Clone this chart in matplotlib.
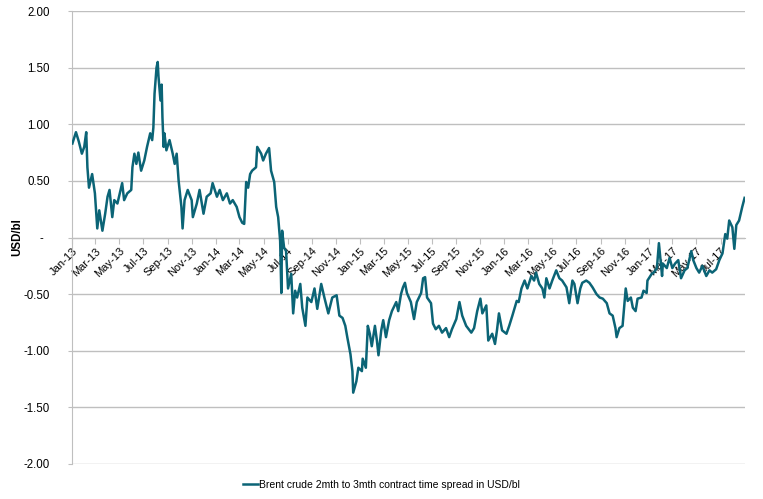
import matplotlib
matplotlib.use("Agg")
import matplotlib.pyplot as plt
import matplotlib.dates as mdates
import pandas as pd

plt.rcParams['font.family'] = ['Liberation Sans', 'DejaVu Sans']

dates = [
    "2013-01-02", "2013-01-11", "2013-01-18", "2013-01-26", "2013-02-01", "2013-02-06", "2013-02-09", "2013-02-13",
    "2013-02-21", "2013-02-28", "2013-03-06", "2013-03-11", "2013-03-19", "2013-03-26", "2013-04-01", "2013-04-06",
    "2013-04-13", "2013-04-18", "2013-04-26", "2013-05-08", "2013-05-13", "2013-05-21", "2013-05-31", "2013-06-03",
    "2013-06-08", "2013-06-13", "2013-06-18", "2013-06-25", "2013-07-03", "2013-07-10", "2013-07-18", "2013-07-23",
    "2013-07-26", "2013-07-29", "2013-08-03", "2013-08-06", "2013-08-08", "2013-08-13", "2013-08-16", "2013-08-18",
    "2013-08-21", "2013-08-23", "2013-08-28", "2013-09-05", "2013-09-13", "2013-09-18", "2013-09-23", "2013-09-28",
    "2013-10-05", "2013-10-08", "2013-10-13", "2013-10-21", "2013-10-31", "2013-11-03", "2013-11-13", "2013-11-20",
    "2013-11-30", "2013-12-08", "2013-12-18", "2013-12-23", "2014-01-03", "2014-01-10", "2014-01-18", "2014-01-28",
    "2014-02-05", "2014-02-12", "2014-02-22", "2014-03-01", "2014-03-08", "2014-03-13", "2014-03-18", "2014-03-23",
    "2014-03-28", "2014-04-02", "2014-04-12", "2014-04-15", "2014-04-25", "2014-04-30", "2014-05-07", "2014-05-15",
    "2014-05-20", "2014-05-28", "2014-06-02", "2014-06-07", "2014-06-12", "2014-06-15", "2014-06-17", "2014-06-22",
    "2014-06-27", "2014-07-02", "2014-07-10", "2014-07-15", "2014-07-20", "2014-07-25", "2014-08-02", "2014-08-07",
    "2014-08-15", "2014-08-20", "2014-08-30", "2014-09-07", "2014-09-14", "2014-09-24", "2014-10-02", "2014-10-12",
    "2014-10-22", "2014-11-02", "2014-11-09", "2014-11-17", "2014-11-24", "2014-11-29", "2014-12-07", "2014-12-12",
    "2014-12-14", "2014-12-22", "2014-12-27", "2015-01-05", "2015-01-07", "2015-01-15", "2015-01-20", "2015-01-25",
    "2015-01-30", "2015-02-07", "2015-02-12", "2015-02-16", "2015-02-23", "2015-02-28", "2015-03-07", "2015-03-15",
    "2015-03-22", "2015-04-02", "2015-04-07", "2015-04-14", "2015-04-19", "2015-04-24", "2015-04-29", "2015-05-09",
    "2015-05-17", "2015-05-24", "2015-06-04", "2015-06-09", "2015-06-14", "2015-06-19", "2015-06-29", "2015-07-04",
    "2015-07-11", "2015-07-19", "2015-07-27", "2015-08-06", "2015-08-14", "2015-08-21", "2015-09-01", "2015-09-09",
    "2015-09-16", "2015-09-26", "2015-10-09", "2015-10-16", "2015-10-24", "2015-11-01", "2015-11-06", "2015-11-16",
    "2015-11-21", "2015-12-01", "2015-12-08", "2015-12-13", "2015-12-18", "2015-12-26", "2016-01-06", "2016-01-13",
    "2016-01-21", "2016-02-01", "2016-02-06", "2016-02-13", "2016-02-21", "2016-02-28", "2016-03-09", "2016-03-16",
    "2016-03-21", "2016-03-29", "2016-04-06", "2016-04-11", "2016-04-16", "2016-04-24", "2016-05-01", "2016-05-11",
    "2016-05-19", "2016-05-26", "2016-06-06", "2016-06-13", "2016-06-21", "2016-06-26", "2016-07-04", "2016-07-11",
    "2016-07-16", "2016-07-26", "2016-08-03", "2016-08-11", "2016-08-21", "2016-08-29", "2016-09-06", "2016-09-16",
    "2016-09-23", "2016-10-01", "2016-10-08", "2016-10-11", "2016-10-18", "2016-10-26", "2016-11-03", "2016-11-08",
    "2016-11-16", "2016-11-21", "2016-11-28", "2016-12-03", "2016-12-13", "2016-12-18", "2016-12-26", "2016-12-28",
    "2017-01-08", "2017-01-13", "2017-01-21", "2017-01-26", "2017-02-03", "2017-02-05", "2017-02-15", "2017-02-22",
    "2017-03-01", "2017-03-08", "2017-03-16", "2017-03-23", "2017-04-01", "2017-04-08", "2017-04-18", "2017-04-23",
    "2017-05-01", "2017-05-08", "2017-05-16", "2017-05-26", "2017-06-03", "2017-06-10", "2017-06-20", "2017-06-28",
    "2017-07-06", "2017-07-13", "2017-07-18", "2017-07-23", "2017-07-31", "2017-08-05", "2017-08-10", "2017-08-17",
    "2017-08-25", "2017-08-31",
]

spread = [
    0.83, 0.93, 0.85, 0.74, 0.80, 0.93, 0.62, 0.44,
    0.56, 0.39, 0.08, 0.24, 0.06, 0.21, 0.36, 0.42,
    0.18, 0.33, 0.30, 0.48, 0.33, 0.39, 0.42, 0.62,
    0.74, 0.65, 0.75, 0.59, 0.68, 0.80, 0.92, 0.86,
    0.97, 1.27, 1.50, 1.55, 1.42, 1.21, 1.35, 1.06,
    0.80, 0.92, 0.77, 0.86, 0.74, 0.65, 0.74, 0.50,
    0.27, 0.08, 0.33, 0.42, 0.33, 0.18, 0.30, 0.42,
    0.21, 0.36, 0.39, 0.48, 0.36, 0.42, 0.33, 0.39,
    0.30, 0.33, 0.27, 0.18, 0.13, 0.12, 0.49, 0.44,
    0.56, 0.59, 0.62, 0.80, 0.74, 0.68, 0.74, 0.79,
    0.59, 0.49, 0.27, 0.18, -0.03, -0.49, 0.06, -0.09,
    -0.12, -0.45, -0.32, -0.67, -0.47, -0.53, -0.41, -0.62,
    -0.78, -0.53, -0.57, -0.45, -0.63, -0.41, -0.53, -0.67,
    -0.53, -0.51, -0.69, -0.71, -0.78, -0.88, -1.03, -1.18,
    -1.37, -1.27, -1.15, -1.18, -1.07, -1.15, -0.78, -0.85,
    -0.96, -0.78, -0.91, -1.04, -0.82, -0.73, -0.88, -0.73,
    -0.65, -0.57, -0.65, -0.50, -0.44, -0.40, -0.49, -0.57,
    -0.72, -0.57, -0.49, -0.36, -0.35, -0.53, -0.58, -0.76,
    -0.81, -0.78, -0.84, -0.80, -0.88, -0.81, -0.72, -0.57,
    -0.69, -0.78, -0.84, -0.80, -0.65, -0.54, -0.67, -0.60,
    -0.91, -0.85, -0.94, -0.82, -0.67, -0.82, -0.85, -0.78,
    -0.69, -0.56, -0.57, -0.45, -0.38, -0.45, -0.34, -0.38,
    -0.31, -0.41, -0.45, -0.53, -0.36, -0.45, -0.38, -0.29,
    -0.36, -0.38, -0.44, -0.58, -0.38, -0.41, -0.58, -0.45,
    -0.40, -0.38, -0.40, -0.44, -0.50, -0.53, -0.54, -0.58,
    -0.67, -0.69, -0.80, -0.88, -0.80, -0.78, -0.45, -0.56,
    -0.53, -0.62, -0.65, -0.54, -0.53, -0.47, -0.49, -0.38,
    -0.32, -0.31, -0.27, -0.05, -0.34, -0.23, -0.27, -0.18,
    -0.27, -0.23, -0.20, -0.36, -0.29, -0.27, -0.12, -0.20,
    -0.27, -0.31, -0.25, -0.34, -0.29, -0.31, -0.28, -0.20,
    -0.14, 0.03, -0.01, 0.15, 0.09, -0.10, 0.11, 0.15,
    0.27, 0.35,
]

y_ticks = [2.0, 1.5, 1.0, 0.5, 0.0, -0.5, -1.0, -1.5, -2.0]
y_tick_labels = ["2.00", "1.50", "1.00", "0.50", "-  ", "-0.50", "-1.00", "-1.50", "-2.00"]
series_label = "Brent crude 2mth to 3mth contract time spread in USD/bl"
y_label = "USD/bl"

line_color = "#0B6476"
grid_color = "#BFBFBF"

x = pd.to_datetime(dates)

fig = plt.figure(figsize=(7.63, 4.99), dpi=100)
ax = fig.add_axes([72 / 763, 1 - 464 / 499, (745 - 72) / 763, (464 - 11) / 499])

ax.plot(x, spread, color=line_color, lw=1.8, label=series_label, zorder=3)

ax.set_xlim(pd.Timestamp("2013-01-01"), pd.Timestamp("2017-09-01"))
ax.set_ylim(-2.0, 2.0)

ax.set_yticks(y_ticks)
ax.set_yticklabels(y_tick_labels)
ax.yaxis.grid(True, color=grid_color, lw=1.0, zorder=0)
ax.set_axisbelow(True)

ax.spines['top'].set_visible(False)
ax.spines['right'].set_visible(False)
ax.spines['left'].set_color(grid_color)
ax.spines['bottom'].set_color(grid_color)
ax.spines['bottom'].set_position(('data', 0))

ax.tick_params(axis='y', length=3, color=grid_color, pad=13, labelsize=8.3, labelcolor='black')
ax.tick_params(axis='x', length=4, color=grid_color, direction='out', pad=2, labelsize=8, labelcolor='black')

ax.xaxis.set_major_locator(mdates.MonthLocator(bymonth=[1, 3, 5, 7, 9, 11]))
ax.xaxis.set_major_formatter(mdates.DateFormatter("%b-%y"))
ax.set_xticks([t for t in ax.get_xticks() if t <= mdates.date2num(pd.Timestamp("2017-07-31"))])
for lbl in ax.get_xticklabels():
    lbl.set_rotation(45)
    lbl.set_ha('right')
    lbl.set_va('top')
    lbl.set_rotation_mode('anchor')

ax.set_ylabel(y_label, fontsize=8.3, fontweight='bold')
ax.yaxis.set_label_coords(-49 / 673, 0.5)

fig.legend(loc='center', bbox_to_anchor=(0.5, 1 - 485 / 499), frameon=False,
           fontsize=7.5, handlelength=1.5, handletextpad=0.1)

fig.savefig("out.png", dpi=100)
